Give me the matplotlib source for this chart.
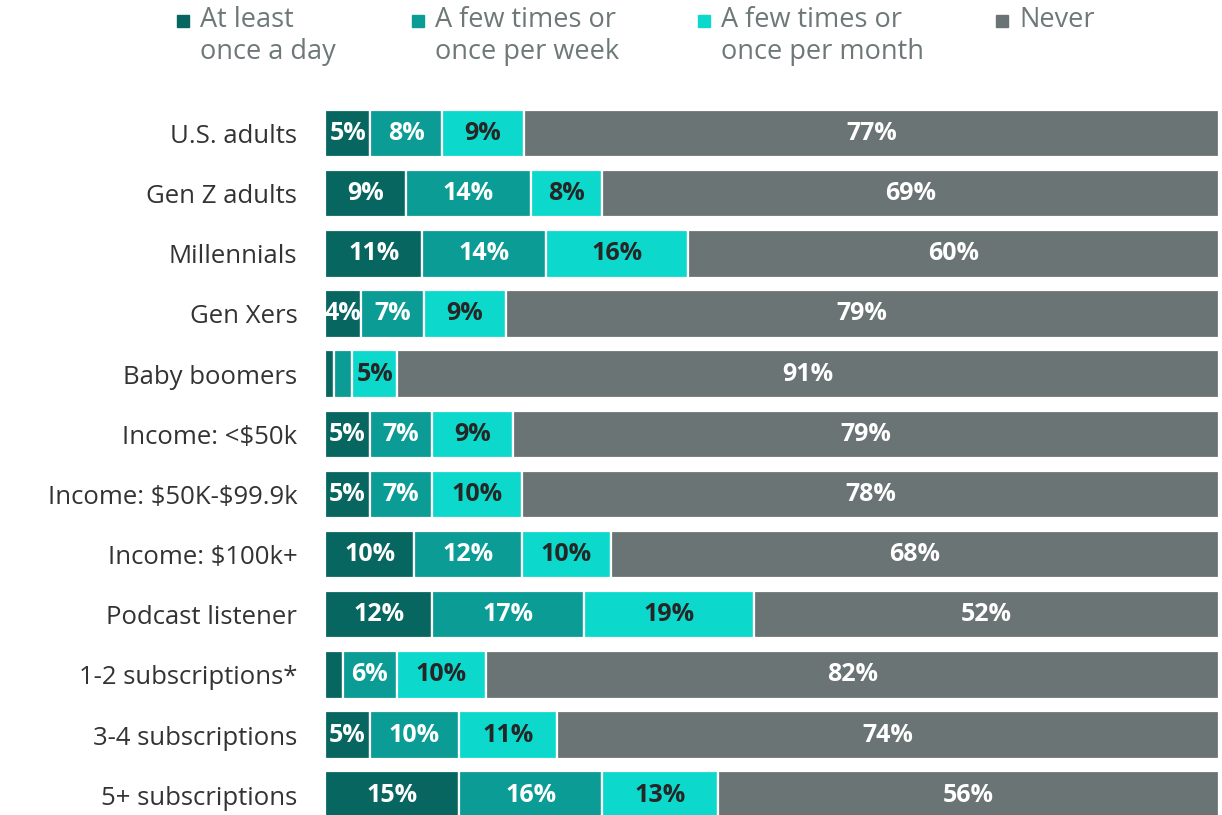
import numpy as np
import matplotlib.pyplot as plt

plt.rcParams['font.family'] = ['Open Sans', 'DejaVu Sans']
plt.rcParams['mathtext.default'] = 'regular'

groups = ['U.S. adults', 'Gen Z adults', 'Millennials', 'Gen Xers', 'Baby boomers',
          'Income: <\\$50k', 'Income: \\$50K-\\$99.9k', 'Income: \\$100k+', 'Podcast listener',
          '1-2 subscriptions*', '3-4 subscriptions', '5+ subscriptions']
daily = [5, 9, 11, 4, 1, 5, 5, 10, 12, 2, 5, 15]
weekly = [8, 14, 14, 7, 2, 7, 7, 12, 17, 6, 10, 16]
monthly = [9, 8, 16, 9, 5, 9, 10, 10, 19, 10, 11, 13]
never = [77, 69, 60, 79, 91, 79, 78, 68, 52, 82, 74, 56]

series_names = ['At least\nonce a day', 'A few times or\nonce per week',
                'A few times or\nonce per month', 'Never']
colors = ['#07665f', '#0c9c96', '#0dd8cc', '#6b7474']
text_colors = ['white', 'white', '#262626', 'white']

data = np.array([daily, weekly, monthly, never], dtype=float)
totals = data.sum(axis=0)
widths = data / totals * 100  # scale each row to fill the bar

fig = plt.figure(figsize=(12.22, 8.15), dpi=100)
ax = fig.add_axes([0.266, 0.0, 0.7315, 0.8748])

y = np.arange(len(groups))
left = np.zeros(len(groups))
for k in range(4):
    ax.barh(y, widths[k], left=left, height=0.79, color=colors[k],
            edgecolor='white', linewidth=1.6)
    for i in range(len(groups)):
        if data[k, i] >= 4:
            ax.text(left[i] + widths[k, i] / 2, y[i], f'{int(data[k, i])}%',
                    ha='center', va='center', fontsize=18, fontweight='bold',
                    color=text_colors[k])
    left += widths[k]

ax.set_xlim(0, 100)
ax.set_ylim(11.33, -0.524)
ax.set_yticks(y)
ax.set_yticklabels(groups, fontsize=18.5, color='#333333')
ax.tick_params(axis='y', length=0, pad=20)
ax.set_xticks([])
for s in ax.spines.values():
    s.set_visible(False)

# legend drawn by hand across the top
leg_x = [0.1448, 0.3372, 0.5712, 0.815]
for k in range(4):
    fig.patches.append(plt.Rectangle((leg_x[k], 0.967), 0.0098, 0.0147,
                                     transform=fig.transFigure, color=colors[k]))
    fig.text(leg_x[k] + 0.0188, 0.993, series_names[k], ha='left', va='top',
             fontsize=19.5, color='#6e7878', linespacing=1.2)

fig.savefig('out.png', dpi=100)
